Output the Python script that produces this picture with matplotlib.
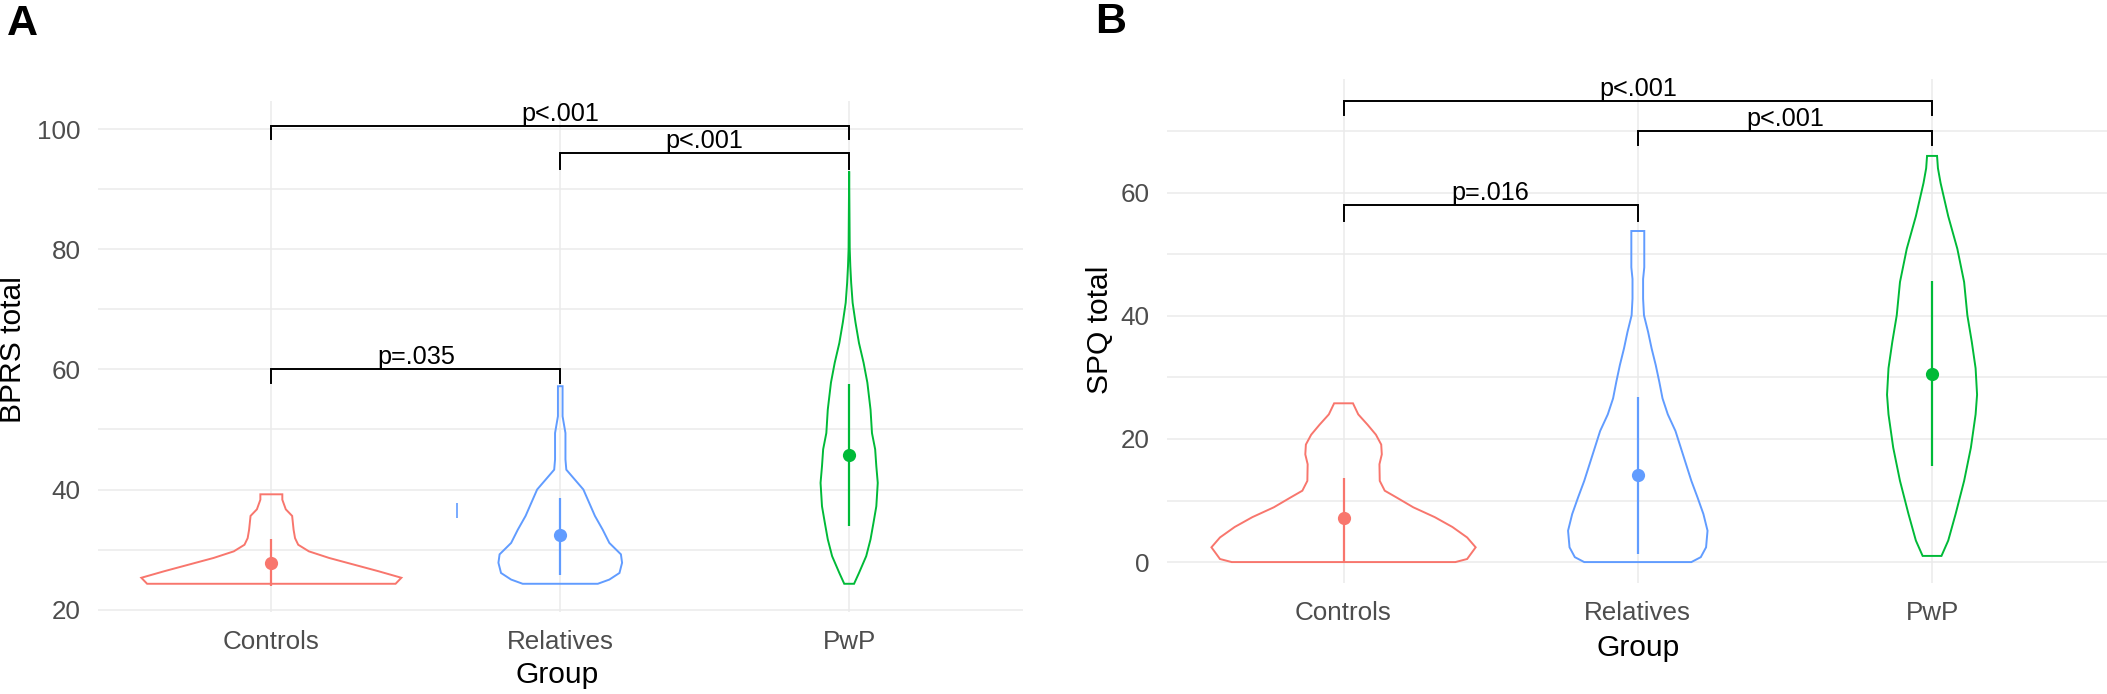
import numpy as np
import matplotlib
matplotlib.use("Agg")
import matplotlib.pyplot as plt

plt.rcParams['font.family'] = ['Liberation Sans', 'DejaVu Sans']

groups = ["Controls", "Relatives", "PwP"]
colors = ["#F8766D", "#619CFF", "#00BA38"]

# ---- panel A : BPRS total (violin outlines: value, half width)
bprs_ctrl_v = [24.3, 25.3, 26.4, 27.5, 28.6, 29.7, 30.8, 31.9, 33.3, 35.6, 36.7, 38.3, 39.2]
bprs_ctrl_w = [0.43, 0.45, 0.37, 0.285, 0.20, 0.13, 0.093, 0.082, 0.077, 0.072, 0.05, 0.038, 0.038]
bprs_rel_v = [24.3, 25.0, 26.1, 27.8, 29.2, 31.1, 33.3, 35.6, 37.8, 40.0, 41.9, 43.3, 45.0, 49.4, 52.2, 57.2]
bprs_rel_w = [0.13, 0.17, 0.205, 0.214, 0.21, 0.17, 0.147, 0.12, 0.10, 0.08, 0.046, 0.021, 0.018, 0.018, 0.008, 0.008]
bprs_pwp_v = [24.3, 26.1, 28.9, 31.7, 34.4, 37.2, 41.1, 43.9, 46.7, 49.4, 53.3, 57.8, 61.1, 64.4, 67.8,
              71.1, 74.4, 77.2, 80.0, 93.0]
bprs_pwp_w = [0.017, 0.034, 0.059, 0.074, 0.084, 0.094, 0.099, 0.094, 0.09, 0.079, 0.074, 0.063, 0.05,
              0.034, 0.022, 0.012, 0.007, 0.004, 0.002, 0.0]
bprs_mean = [27.8, 32.4, 45.8]
bprs_lo = [24.0, 25.8, 33.9]
bprs_hi = [31.7, 38.6, 57.5]
bprs_pairs = [(0, 2, 100.55, 98.45, "p<.001"), (1, 2, 96.1, 93.4, "p<.001"), (0, 1, 60.1, 57.8, "p=.035")]

# ---- panel B : SPQ total
spq_ctrl_v = [0, 0.5, 2.4, 4.0, 5.7, 7.3, 8.9, 10.5, 11.6, 13.2, 15.9, 17.5, 19.1, 20.7, 22.3, 24.0, 25.8]
spq_ctrl_w = [0.38, 0.42, 0.449, 0.42, 0.37, 0.31, 0.237, 0.18, 0.14, 0.123, 0.122, 0.13, 0.128, 0.11,
              0.082, 0.05, 0.032]
spq_rel_v = [0, 0.8, 2.4, 5.1, 7.8, 10.5, 13.2, 15.9, 18.6, 21.3, 24.0, 26.6, 29.3, 32.0, 34.7, 37.4,
             40.1, 42.8, 46.0, 47.9, 53.8]
spq_rel_w = [0.182, 0.214, 0.232, 0.237, 0.223, 0.203, 0.182, 0.164, 0.146, 0.128, 0.102, 0.084, 0.073,
             0.061, 0.047, 0.035, 0.021, 0.018, 0.018, 0.022, 0.022]
spq_pwp_v = [1.0, 3.5, 7.8, 13.2, 18.6, 24.0, 27.2, 31.5, 35.8, 40.1, 45.5, 50.9, 56.2, 61.6, 64.0, 66.0]
spq_pwp_w = [0.032, 0.055, 0.08, 0.109, 0.132, 0.148, 0.153, 0.148, 0.135, 0.12, 0.109, 0.086, 0.055,
             0.029, 0.02, 0.017]
spq_mean = [7.2, 14.2, 30.5]
spq_lo = [0.0, 1.3, 15.6]
spq_hi = [13.7, 26.9, 45.6]
spq_pairs = [(0, 2, 74.9, 72.7, "p<.001"), (1, 2, 70.0, 67.7, "p<.001"), (0, 1, 58.0, 55.5, "p=.016")]

W, H = 2107, 694
fig = plt.figure(figsize=(W / 100, H / 100), dpi=100)


def px_ax(left, top, right, bottom):
    return fig.add_axes([left / W, 1 - bottom / H, (right - left) / W, (bottom - top) / H])


def panel(ax, profiles, mean, lo, hi, pairs, ylim, major, minor, ylabel, ylab_xy, xlab_xy):
    pos = np.arange(1, 4)
    ax.set_xlim(0.4, 3.6)
    ax.set_ylim(*ylim)
    ax.set_yticks(major)
    ax.set_yticks(minor, minor=True)
    ax.set_xticks(pos)
    ax.set_xticklabels(groups)
    ax.grid(True, which='both', axis='y', color='#EBEBEB', lw=1.1)
    ax.grid(True, which='major', axis='x', color='#EBEBEB', lw=1.1)
    ax.set_axisbelow(True)
    for s in ax.spines.values():
        s.set_visible(False)
    ax.tick_params(which='both', length=0, labelsize=18.7, labelcolor='#4D4D4D')
    ax.tick_params(axis='y', pad=12.5)
    ax.tick_params(axis='x', pad=13)

    for i, (v, w) in enumerate(profiles):
        v = np.array(v)
        w = np.array(w)
        xs = np.concatenate([pos[i] - w, (pos[i] + w)[::-1]])
        ys = np.concatenate([v, v[::-1]])
        ax.fill(xs, ys, facecolor='none', edgecolor=colors[i], lw=1.4)
        ax.vlines(pos[i], lo[i], hi[i], color=colors[i], lw=1.6)
        ax.plot(pos[i], mean[i], 'o', color=colors[i], ms=9.5, mec='none')

    for a, b, yb, yt, lab in pairs:
        xa, xb = pos[a], pos[b]
        ax.plot([xa, xa, xb, xb], [yt, yb, yb, yt], color='black', lw=1.4, solid_joinstyle='miter')
        ax.text((xa + xb) / 2, yb, lab, ha='center', va='bottom', fontsize=18.2)

    ax.set_ylabel(ylabel, fontsize=21.6, rotation=90, va='center', ha='center')
    ax.yaxis.set_label_coords(ylab_xy[0] / W, 1 - ylab_xy[1] / H, transform=fig.transFigure)
    ax.set_xlabel("Group", fontsize=21.6, va='top')
    ax.xaxis.set_label_coords(xlab_xy[0] / W, 1 - xlab_xy[1] / H, transform=fig.transFigure)


axA = px_ax(98, 101, 1022.5, 612)
panel(axA,
      [(bprs_ctrl_v, bprs_ctrl_w), (bprs_rel_v, bprs_rel_w), (bprs_pwp_v, bprs_pwp_w)],
      bprs_mean, bprs_lo, bprs_hi, bprs_pairs,
      (19.6, 104.7), [20, 40, 60, 80, 100], [30, 50, 70, 90],
      "BPRS total", (13, 350), (557, 661))
# small stray blue tick left of the Relatives violin in the original
axA.vlines(1.642, 35.3, 37.8, color=colors[1], lw=1.2)

axB = px_ax(1167, 79, 2108.6, 583)
panel(axB,
      [(spq_ctrl_v, spq_ctrl_w), (spq_rel_v, spq_rel_w), (spq_pwp_v, spq_pwp_w)],
      spq_mean, spq_lo, spq_hi, spq_pairs,
      (-3.4, 78.5), [0, 20, 40, 60], [10, 30, 50, 70],
      "SPQ total", (1100, 330), (1638, 634))

fig.text(7 / W, 1 - 4 / H, "A", fontsize=31, weight='bold', va='top', ha='left')
fig.text(1095 / W, 1 - 2 / H, "B", fontsize=31, weight='bold', va='top', ha='left')

fig.savefig("out.png", dpi=100)
